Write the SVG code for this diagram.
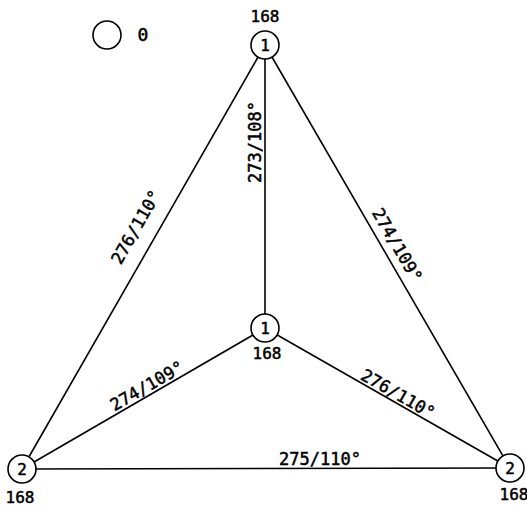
<svg xmlns="http://www.w3.org/2000/svg" width="527" height="508" viewBox="0 0 527 508">
<style>
.edge{stroke:#000;stroke-width:1.6;fill:none}
.node{fill:#fff;stroke:#000;stroke-width:1.6}
text{font-family:"DejaVu Sans Mono","Liberation Mono",monospace;font-size:16px;fill:#000;stroke:#000;stroke-width:0.5;text-anchor:middle}
.lbl{font-size:17px}
</style>
<rect width="527" height="508" fill="#fff"/>
<g id="connectors">
<line class="edge" x1="265" y1="45" x2="265" y2="328"/>
<line class="edge" x1="265" y1="45" x2="22" y2="469"/>
<line class="edge" x1="265" y1="45" x2="510" y2="468"/>
<line class="edge" x1="265" y1="328" x2="22" y2="469"/>
<line class="edge" x1="265" y1="328" x2="510" y2="468"/>
<line class="edge" x1="22" y1="469" x2="510" y2="468"/>
<text class="lbl" transform="translate(261,142) rotate(-90)">273/108°</text>
<text class="lbl" transform="translate(141,230) rotate(-60.2)">276/110°</text>
<text class="lbl" transform="translate(392,248) rotate(59.9)">274/109°</text>
<text class="lbl" transform="translate(150,391) rotate(-30.1)">274/109°</text>
<text class="lbl" transform="translate(395,399) rotate(29.7)">276/110°</text>
<text class="lbl" x="320" y="465">275/110°</text>
</g>
<g id="legend">
<circle class="node" cx="107" cy="35" r="14"/>
<text x="143" y="41" style="font-size:18px">0</text>
</g>
<g id="n-top">
<circle class="node" cx="265" cy="45" r="14"/>
<text x="265" y="51">1</text>
<text x="265" y="22">168</text>
</g>
<g id="n-center">
<circle class="node" cx="265" cy="328" r="14"/>
<text x="265" y="334">1</text>
<text x="267" y="359">168</text>
</g>
<g id="n-left">
<circle class="node" cx="22" cy="469" r="14"/>
<text x="22" y="475">2</text>
<text x="20" y="503">168</text>
</g>
<g id="n-right">
<circle class="node" cx="510" cy="468" r="14"/>
<text x="510" y="474">2</text>
<text x="514" y="500">168</text>
</g>
</svg>
